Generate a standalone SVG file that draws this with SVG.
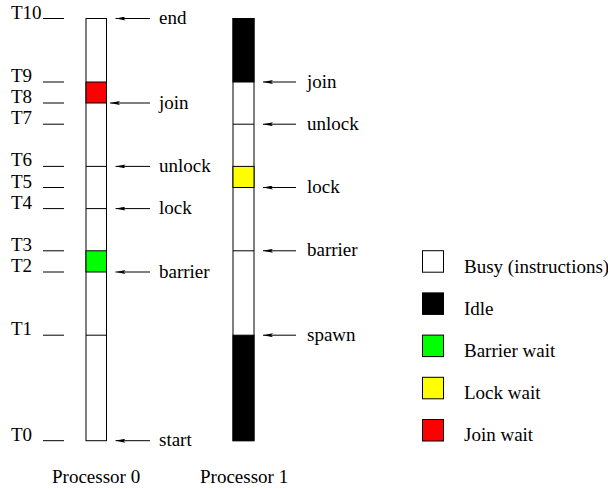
<svg xmlns="http://www.w3.org/2000/svg" width="608" height="489" viewBox="0 0 608 489">
  <style>
    text { font-family: "Liberation Serif", "Times New Roman", serif; font-size: 19px; fill: #000; }
    .bar { stroke: #000; stroke-width: 1; }
    .tick { stroke: #000; stroke-width: 1; }
    .arrow { stroke: #000; stroke-width: 1; fill: none; marker-end: url(#head); }
    .sep { stroke: #000; stroke-width: 1; }
  </style>
  <defs>
    <marker id="head" viewBox="0 0 10 4" refX="10" refY="2" markerWidth="10" markerHeight="4" markerUnits="userSpaceOnUse" orient="auto">
      <path d="M0,0 L10,2 L0,4 L2,2 z" fill="#000"/>
    </marker>
  </defs>

  <rect width="608" height="489" fill="#fff"/>

  <!-- time axis -->
  <g id="time-axis">
    <line class="tick" x1="43" y1="18.5" x2="64" y2="18.5"/><text x="11" y="18.5">T10</text>
    <line class="tick" x1="43" y1="82" x2="64" y2="82"/><text x="11" y="82">T9</text>
    <line class="tick" x1="43" y1="103" x2="64" y2="103"/><text x="11" y="103">T8</text>
    <line class="tick" x1="43" y1="124.2" x2="64" y2="124.2"/><text x="11" y="124.2">T7</text>
    <line class="tick" x1="43" y1="166.4" x2="64" y2="166.4"/><text x="11" y="166.4">T6</text>
    <line class="tick" x1="43" y1="187.5" x2="64" y2="187.5"/><text x="11" y="187.5">T5</text>
    <line class="tick" x1="43" y1="208.6" x2="64" y2="208.6"/><text x="11" y="208.6">T4</text>
    <line class="tick" x1="43" y1="250.8" x2="64" y2="250.8"/><text x="11" y="250.8">T3</text>
    <line class="tick" x1="43" y1="272" x2="64" y2="272"/><text x="11" y="272">T2</text>
    <line class="tick" x1="43" y1="335.2" x2="64" y2="335.2"/><text x="11" y="335.2">T1</text>
    <line class="tick" x1="43" y1="440.7" x2="64" y2="440.7"/><text x="11" y="440.7">T0</text>
  </g>

  <!-- processor 0 timeline -->
  <g id="processor0">
    <rect class="bar" x="86" y="18.5" width="20.5" height="422.2" fill="#fff"/>
    <rect class="bar" x="86" y="82" width="20.5" height="21" fill="#ff0000"/>
    <rect class="bar" x="86" y="250.8" width="20.5" height="21.2" fill="#00ff00"/>
    <line class="sep" x1="86" y1="166.4" x2="106.5" y2="166.4"/>
    <line class="sep" x1="86" y1="208.6" x2="106.5" y2="208.6"/>
    <line class="sep" x1="86" y1="335.2" x2="106.5" y2="335.2"/>
    <text x="52" y="483">Processor 0</text>
  </g>

  <!-- processor 1 timeline -->
  <g id="processor1">
    <rect class="bar" x="233" y="18.5" width="21" height="422.2" fill="#fff"/>
    <rect class="bar" x="233" y="18.5" width="21" height="63.5" fill="#000"/>
    <rect class="bar" x="233" y="166.4" width="21" height="21.1" fill="#ffff00"/>
    <rect class="bar" x="233" y="335.2" width="21" height="105.5" fill="#000"/>
    <line class="sep" x1="233" y1="124.2" x2="254" y2="124.2"/>
    <line class="sep" x1="233" y1="250.8" x2="254" y2="250.8"/>
    <text x="200" y="483">Processor 1</text>
  </g>

  <!-- event arrows -->
  <g id="connectors">
    <line class="arrow" x1="150" y1="18.5" x2="115.5" y2="18.5"/>
    <line class="arrow" x1="150" y1="103" x2="110" y2="103"/>
    <line class="arrow" x1="150" y1="166.4" x2="115.5" y2="166.4"/>
    <line class="arrow" x1="150" y1="208.6" x2="115.5" y2="208.6"/>
    <line class="arrow" x1="150" y1="272" x2="115.5" y2="272"/>
    <line class="arrow" x1="150" y1="440.7" x2="115.5" y2="440.7"/>
    <line class="arrow" x1="296" y1="82" x2="263" y2="82"/>
    <line class="arrow" x1="296" y1="124.2" x2="263" y2="124.2"/>
    <line class="arrow" x1="296" y1="187.5" x2="263" y2="187.5"/>
    <line class="arrow" x1="296" y1="250.8" x2="263" y2="250.8"/>
    <line class="arrow" x1="296" y1="335.2" x2="263" y2="335.2"/>
  </g>

  <!-- event labels -->
  <g id="event-labels">
    <text x="159" y="24">end</text>
    <text x="159" y="108.5">join</text>
    <text x="159" y="172">unlock</text>
    <text x="159" y="214">lock</text>
    <text x="159" y="277.5">barrier</text>
    <text x="159" y="446">start</text>
    <text x="307" y="87.5">join</text>
    <text x="307" y="129.7">unlock</text>
    <text x="307" y="193">lock</text>
    <text x="307" y="256.3">barrier</text>
    <text x="307" y="340.7">spawn</text>
  </g>

  <!-- legend -->
  <g id="legend">
    <g id="legend-busy"><rect class="bar" x="422.5" y="250.7" width="21" height="21.5" fill="#fff"/><text x="464" y="272.5">Busy (instructions)</text></g>
    <g id="legend-idle"><rect class="bar" x="422.5" y="292.9" width="21" height="21.5" fill="#000"/><text x="464" y="314.7">Idle</text></g>
    <g id="legend-barrier"><rect class="bar" x="422.5" y="335.1" width="21" height="21.5" fill="#00ff00"/><text x="464" y="356.9">Barrier wait</text></g>
    <g id="legend-lock"><rect class="bar" x="422.5" y="377.3" width="21" height="21.5" fill="#ffff00"/><text x="464" y="399.1">Lock wait</text></g>
    <g id="legend-join"><rect class="bar" x="422.5" y="419.5" width="21" height="21.5" fill="#ff0000"/><text x="464" y="441.3">Join wait</text></g>
  </g>
</svg>
